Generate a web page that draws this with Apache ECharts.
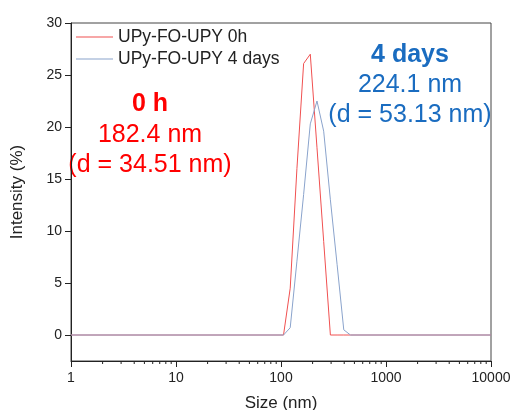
<!DOCTYPE html>
<html>
<head>
<meta charset="utf-8">
<script src="https://cdn.jsdelivr.net/npm/echarts@6/dist/echarts.min.js"></script>
<style>
  html, body { margin: 0; padding: 0; background: #fff; }
  #chart { width: 510px; height: 410px; }
</style>
</head>
<body>
<div id="chart"></div>
<script>
// size bins (nm) and intensity (%)
const sizes = [1, 105.7, 122.4, 141.8, 164.2, 190.1, 220.2, 255.0, 295.3, 342.0, 396.1, 458.7, 10000];
const intensity0h = [0, 0, 4.5, 16.0, 26.1, 27.0, 18.0, 9.0, 0, 0, 0, 0, 0];
const intensity4d = [0, 0, 0.7, 7.1, 13.5, 20.3, 22.5, 19.6, 13.0, 6.8, 0.5, 0, 0];
const seriesNames = ['UPy-FO-UPY 0h', 'UPy-FO-UPY 4 days'];
const minorTicks = [];
[1, 10, 100, 1000].forEach(d => {
  for (let k = 2; k <= 9; k++) minorTicks.push(d * k);
});

const font = 'Arial, "Liberation Sans", sans-serif';
const red = '#ff0000';
const blue = '#1a6cc0';
const yMin = -2.5;

const chart = echarts.init(document.getElementById('chart'));

const lineSeries = {
  type: 'line',
  symbol: 'none',
  showSymbol: false,
  animation: false,
  z: 3
};

const annot = (x, y, text, color, bold) => ({
  type: 'text',
  x: x,
  y: y,
  style: {
    text: text,
    fill: color,
    font: (bold ? 'bold ' : '') + '25px ' + font,
    textAlign: 'center',
    textVerticalAlign: 'middle'
  }
});

const option = {
  animation: false,
  grid: {
    left: 71,
    right: 19,
    top: 23,
    bottom: 49,
    outerBoundsMode: 'none',
    show: true,
    borderColor: '#444',
    borderWidth: 1
  },
  legend: {
    data: seriesNames,
    orient: 'vertical',
    left: 76,
    top: 27,
    padding: 0,
    icon: 'rect',
    itemWidth: 37,
    itemHeight: 1.2,
    itemGap: 2,
    textStyle: { fontFamily: font, fontSize: 17.5, color: '#222', lineHeight: 20 }
  },
  xAxis: {
    type: 'log',
    logBase: 10,
    min: 1,
    max: 10000,
    name: 'Size (nm)',
    nameLocation: 'middle',
    nameGap: 34,
    nameTextStyle: { fontFamily: font, fontSize: 17, color: '#222' },
    axisLine: { onZero: false, lineStyle: { color: '#222', width: 1 } },
    axisTick: { length: 6, lineStyle: { color: '#222' } },
    axisLabel: {
      fontFamily: font, fontSize: 14, color: '#222', margin: 10,
      formatter: v => String(v)
    },
    splitLine: { show: false }
  },
  yAxis: {
    type: 'value',
    min: yMin,
    max: 30,
    minInterval: 5,
    maxInterval: 5,
    name: 'Intensity (%)',
    nameLocation: 'middle',
    nameGap: 45,
    nameTextStyle: { fontFamily: font, fontSize: 17, color: '#222' },
    axisLine: { show: true, onZero: false, lineStyle: { color: '#222', width: 1 } },
    axisTick: { show: true, length: 6, lineStyle: { color: '#222' } },
    axisLabel: {
      fontFamily: font, fontSize: 14, color: '#222', margin: 9,
      showMinLabel: false,
      formatter: v => (v % 5 === 0 ? String(v) : '')
    },
    splitLine: { show: false }
  },
  series: [
    {
      name: seriesNames[0],
      ...lineSeries,
      color: '#f05050',
      lineStyle: { width: 1, color: '#f05050' },
      data: sizes.map((s, i) => [s, intensity0h[i]])
    },
    {
      name: seriesNames[1],
      ...lineSeries,
      color: '#8aa3cc',
      lineStyle: { width: 1, color: '#8aa3cc' },
      data: sizes.map((s, i) => [s, intensity4d[i]])
    },
    {
      // log-spaced minor ticks under the x axis
      type: 'custom',
      silent: true,
      animation: false,
      clip: false,
      z: 5,
      data: minorTicks.map(v => [v, yMin]),
      renderItem: (params, api) => {
        const p = api.coord([api.value(0), api.value(1)]);
        return {
          type: 'line',
          shape: { x1: p[0], y1: p[1], x2: p[0], y2: p[1] + 3 },
          style: { stroke: '#222', lineWidth: 1 }
        };
      }
    }
  ],
  graphic: [
    annot(150, 104, '0 h', red, true),
    annot(150, 135, '182.4 nm', red, false),
    annot(150, 165, '(d = 34.51 nm)', red, false),
    annot(410, 55, '4 days', blue, true),
    annot(410, 85, '224.1 nm', blue, false),
    annot(410, 115, '(d = 53.13 nm)', blue, false)
  ]
};
chart.setOption(option);
</script>
</body>
</html>
